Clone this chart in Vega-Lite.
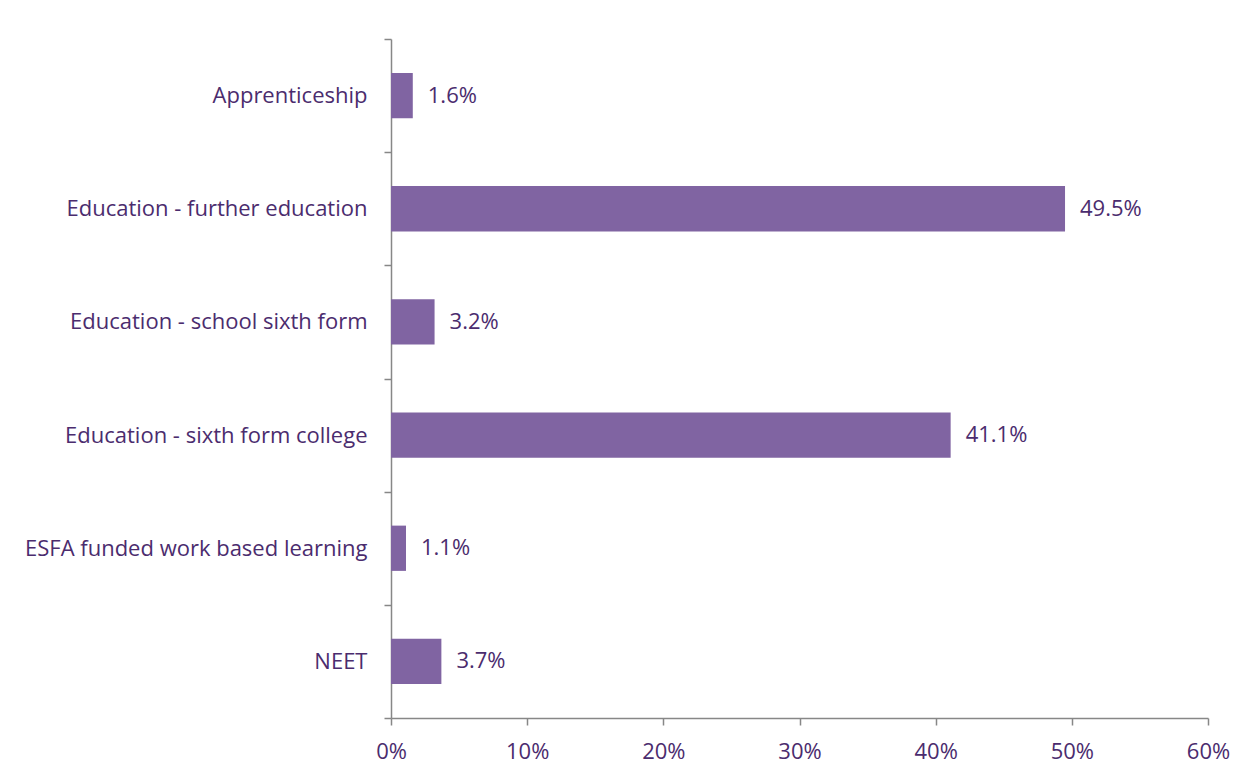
{
  "$schema": "https://vega.github.io/schema/vega-lite/v6.json",
  "autosize": {"type": "none"},
  "width": 817,
  "height": 679,
  "padding": {"left": 391, "top": 39, "right": 35, "bottom": 57},
  "background": "white",
  "config": {
    "view": {"stroke": null},
    "font": "Open Sans",
    "axis": {
      "labelFont": "Open Sans",
      "labelFontSize": 22,
      "labelColor": "#4B2C6E",
      "domainColor": "#878787",
      "tickColor": "#878787",
      "domainWidth": 1.5,
      "tickWidth": 1.5,
      "tickSize": 7,
      "grid": false,
      "title": null
    }
  },
  "data": {
    "values": [
      {"category": "Apprenticeship", "share": 0.016},
      {"category": "Education - further education", "share": 0.495},
      {"category": "Education - school sixth form", "share": 0.032},
      {"category": "Education - sixth form college", "share": 0.411},
      {"category": "ESFA funded work based learning", "share": 0.011},
      {"category": "NEET", "share": 0.037}
    ]
  },
  "encoding": {
    "y": {
      "field": "category",
      "type": "nominal",
      "sort": null,
      "scale": {"paddingInner": 0, "paddingOuter": 0},
      "axis": {"tickBand": "extent", "labelPadding": 17, "labelLimit": 400}
    },
    "x": {
      "field": "share",
      "type": "quantitative",
      "scale": {"domain": [0, 0.6], "nice": false},
      "axis": {"values": [0, 0.1, 0.2, 0.3, 0.4, 0.5, 0.6], "format": ".0%", "labelPadding": 16, "labelFlush": false}
    }
  },
  "layer": [
    {"mark": {"type": "bar", "color": "#8064A2", "height": {"band": 0.4}}},
    {
      "mark": {"type": "text", "align": "left", "dx": 15, "fontSize": 22, "font": "Open Sans", "color": "#4B2C6E"},
      "encoding": {"text": {"field": "share", "type": "quantitative", "format": ".1%"}}
    }
  ]
}
